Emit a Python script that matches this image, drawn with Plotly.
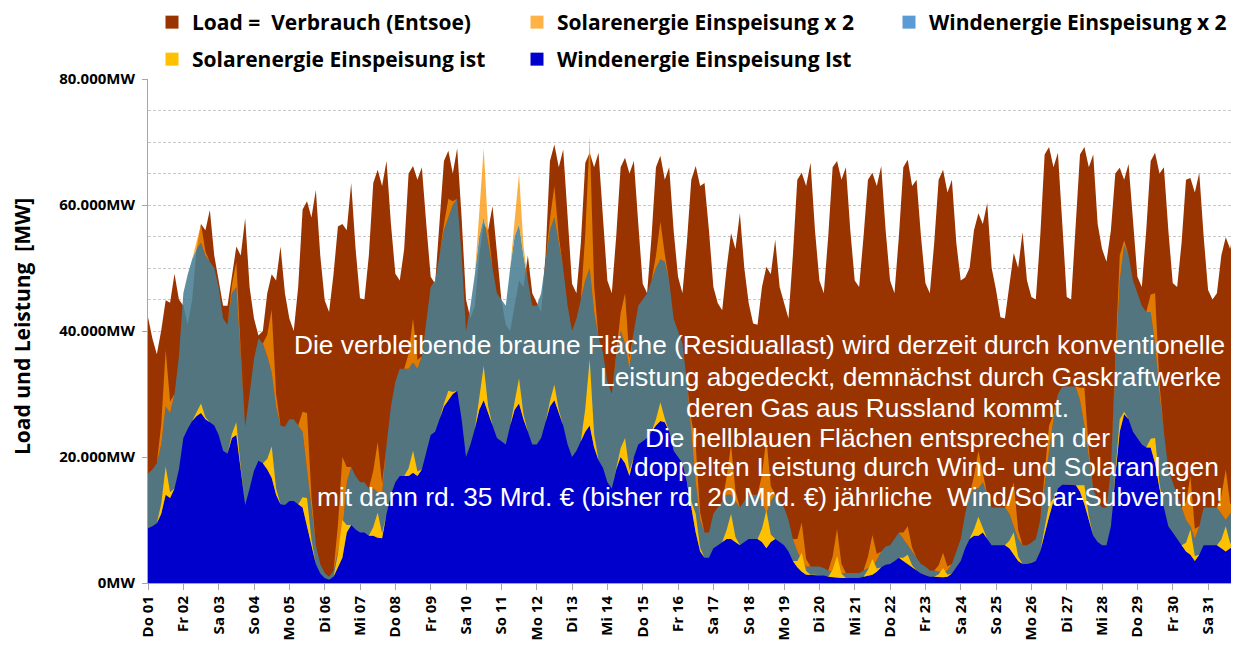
import plotly.graph_objects as go

# ---------------- data ----------------
day_labels = ["Do 01", "Fr 02", "Sa 03", "So 04", "Mo 05", "Di 06", "Mi 07", "Do 08",
              "Fr 09", "Sa 10", "So 11", "Mo 12", "Di 13", "Mi 14", "Do 15", "Fr 16",
              "Sa 17", "So 18", "Mo 19", "Di 20", "Mi 21", "Do 22", "Fr 23", "Sa 24",
              "So 25", "Mo 26", "Di 27", "Mi 28", "Do 29", "Fr 30", "Sa 31"]
day_start_hours = [24 * i for i in range(31)]

# hour of month (3-hourly samples: 0h,3h,...,21h of each day)
hours = list(range(0, 744, 3))

# Load = Verbrauch (Entsoe) [MW]
load_mw = [
    42200, 38800, 36300, 40100, 44900, 44500, 49100, 45000,   # Do 01
    44000, 41000, 45000, 53000, 57000, 56000, 59200, 52000,   # Fr 02
    48000, 44000, 44000, 49000, 53400, 52000, 57900, 47000,   # Sa 03
    42000, 39300, 40000, 46000, 49000, 48000, 53400, 46000,   # So 04
    42000, 40000, 47000, 59300, 60600, 58000, 62400, 52000,   # Mo 05
    44900, 43000, 49000, 56600, 57000, 56000, 63500, 53000,   # Di 06
    45200, 45000, 52000, 63500, 65600, 63000, 67000, 57000,   # Mi 07
    49100, 48000, 53000, 65000, 66200, 64000, 66000, 57000,   # Do 08
    48600, 47500, 58000, 67000, 68600, 65000, 69000, 58000,   # Fr 09
    45000, 42000, 44000, 52000, 57000, 56000, 59800, 52000,   # Sa 10
    45000, 41000, 40000, 44000, 48000, 47000, 52000, 46000,   # So 11
    44400, 43000, 52000, 67000, 69600, 66000, 68800, 58000,   # Mo 12
    47500, 46000, 54000, 66700, 68300, 66000, 68300, 58000,   # Di 13
    48000, 46000, 55000, 66000, 67500, 65000, 67000, 57000,   # Mi 14
    47500, 46000, 55000, 66000, 67800, 64000, 66000, 56000,   # Do 15
    48600, 46000, 54000, 64000, 66200, 63000, 63500, 56000,   # Fr 16
    47000, 44400, 43300, 50000, 55500, 53000, 58700, 50000,   # Sa 17
    44400, 41200, 41000, 47000, 50200, 49000, 54500, 47000,   # So 18
    44400, 42000, 52000, 64000, 65100, 63000, 66700, 56000,   # Mo 19
    48000, 46000, 55000, 66000, 67000, 64000, 66000, 56000,   # Di 20
    48000, 47000, 55000, 64000, 65100, 63000, 66200, 56000,   # Mi 21
    48000, 46000, 55000, 66000, 67200, 63000, 64000, 55000,   # Do 22
    47600, 46000, 54000, 64000, 65600, 62000, 64000, 54000,   # Fr 23
    48000, 48500, 50000, 56000, 58700, 57000, 60300, 50000,   # Sa 24
    46500, 42200, 42000, 47000, 52400, 50000, 55700, 48000,   # So 25
    45400, 45000, 55000, 68000, 69200, 66000, 68300, 57000,   # Mo 26
    45400, 45000, 56000, 68000, 69200, 66000, 68000, 57000,   # Di 27
    53000, 51000, 56000, 65000, 65900, 64000, 66500, 57000,   # Mi 28
    48600, 47000, 56000, 67000, 68300, 65000, 66000, 56000,   # Do 29
    47600, 47000, 54000, 64000, 64300, 62000, 65100, 55000,   # Fr 30
    46500, 45000, 46000, 52000, 54900, 53000, 57100, 50800,   # Sa 31
]

# Windenergie Einspeisung Ist [MW]
wind_ist_mw = [
    8700, 9000, 9500, 11000, 14000, 13500, 15000, 18000,
    23000, 24500, 25700, 26500, 27000, 26000, 25500, 25000,
    23500, 21000, 20500, 23000, 23500, 18000, 12400, 15000,
    17800, 19400, 19000, 18000, 16700, 14000, 12500, 12400,
    13000, 13000, 12500, 12000, 9000, 6000, 3000, 1500,
    800, 500, 1000, 2500, 4000, 8000, 9200, 8500,
    8000, 8000, 7500, 7500, 7200, 7100, 11000, 14000,
    16000, 17000, 17000, 17000, 17500, 17000, 18000, 21000,
    23500, 24000, 26000, 28000, 29000, 30000, 30500, 26000,
    20000, 22000, 24500, 27500, 29000, 27000, 25000, 23000,
    22500, 22000, 25000, 27500, 28500, 26000, 24000, 22000,
    22000, 23000, 25500, 28000, 29000, 27000, 25000, 22000,
    20000, 21000, 22500, 24000, 25000, 21500, 19500, 18300,
    16000, 15000, 18000, 20000, 19000, 17000, 20000, 22000,
    22500, 23000, 24000, 25000, 25700, 25500, 24000, 21000,
    20000, 19000, 16000, 12000, 8000, 5000, 4000, 4000,
    5500, 6000, 6500, 7000, 7000, 6500, 6000, 6500,
    7000, 7000, 7000, 6500, 5500, 6500, 7000, 6500,
    6000, 5000, 3500, 2500, 1800, 1300, 1300, 1300,
    1300, 1200, 1000, 900, 800, 800, 800, 800,
    800, 800, 1000, 1200, 1300, 1800, 2500, 2900,
    3000, 3500, 4000, 3500, 3000, 2500, 2000, 1500,
    1300, 1000, 1000, 900, 900, 1000, 1500, 2500,
    3500, 5500, 7000, 7500, 7500, 8000, 7000, 6000,
    6000, 6000, 6000, 5500, 4500, 3500, 3000, 3000,
    3200, 3500, 5000, 8000, 10500, 13000, 15000, 15600,
    15600, 15600, 15600, 14500, 12500, 10000, 7500, 6500,
    6000, 6000, 9000, 17000, 24000, 26800, 26000, 24000,
    23000, 22000, 21500, 21500, 19000, 15000, 12000, 9000,
    8000, 7000, 6000, 5000, 4500, 3500, 4500, 6000,
    6000, 6000, 6000, 5500, 5000, 5500, 6000, 6000,
]

# Solarenergie Einspeisung ist [MW]
solar_ist_mw = [
    0, 0, 0, 1600, 4500, 900, 0, 0,
    0, 0, 0, 500, 1500, 300, 0, 0,
    0, 0, 0, 700, 2000, 400, 0, 0,
    0, 0, 0, 1700, 5000, 1000, 0, 0,
    0, 0, 0, 1600, 4500, 900, 0, 0,
    0, 0, 0, 2100, 6000, 1200, 0, 0,
    0, 0, 0, 1400, 4000, 800, 0, 0,
    0, 0, 0, 1200, 3500, 700, 0, 0,
    0, 0, 0, 500, 1500, 300, 0, 0,
    0, 0, 0, 1900, 5500, 1100, 0, 0,
    0, 0, 0, 1400, 4000, 800, 0, 0,
    0, 0, 0, 900, 2500, 500, 0, 0,
    0, 0, 0, 3700, 10500, 2100, 0, 0,
    0, 0, 0, 1400, 4000, 800, 0, 0,
    0, 0, 0, 1000, 3000, 600, 0, 0,
    0, 0, 0, 1000, 3000, 600, 0, 0,
    0, 0, 0, 1400, 4000, 800, 0, 0,
    0, 0, 0, 2100, 6000, 1200, 0, 0,
    0, 0, 0, 1000, 3000, 600, 0, 0,
    0, 0, 0, 1200, 3500, 700, 0, 0,
    0, 0, 0, 900, 2500, 500, 0, 0,
    0, 0, 0, 500, 1500, 300, 0, 0,
    0, 0, 0, 500, 1500, 300, 0, 0,
    0, 0, 0, 1000, 3000, 600, 0, 0,
    0, 0, 0, 1200, 3500, 700, 0, 0,
    0, 0, 0, 700, 2000, 400, 0, 0,
    0, 0, 0, 1000, 3000, 600, 0, 0,
    0, 0, 0, 700, 2000, 400, 0, 0,
    0, 0, 0, 1400, 4000, 800, 0, 0,
    0, 0, 0, 1400, 4000, 800, 0, 0,
    0, 0, 0, 1400, 4000, 800, 0, 0,
]

# "x 2" scenario = doubled feed-in (by definition of the series)
wind_x2_mw = [2 * v for v in wind_ist_mw]
solar_x2_mw = [2 * v for v in solar_ist_mw]

y_tick_vals = [0, 20000, 40000, 60000, 80000]
y_tick_text = ["0MW", "20.000MW", "40.000MW", "60.000MW", "80.000MW"]

note_lines = [
    "Die verbleibende braune Fläche (Residuallast) wird derzeit durch konventionelle",
    "Leistung abgedeckt, demnächst durch Gaskraftwerke",
    "deren Gas aus Russland kommt.",
    "Die hellblauen Flächen entsprechen der",
    "doppelten Leistung durch Wind- und Solaranlagen",
    "mit dann rd. 35 Mrd. € (bisher rd. 20 Mrd. €) jährliche  Wind/Solar-Subvention!",
]

# ---------------- styling ----------------
C_LOAD = "#993300"
C_WIND2 = "rgba(72,126,146,0.88)"
C_SOLAR2 = "rgba(249,147,0,0.74)"
C_WIND = "#0000CC"
C_SOLAR = "#FFC000"

# page offset of the plot div (default body margin)
OFF = 8
W, H = 1239 - OFF, 646 - OFF
ML, MR, MT = 148 - OFF, 0, 79 - OFF
MB = H - (583 - OFF)
PW, PH = W - ML - MR, H - MT - MB


def px(xp):
    return (xp - OFF - ML) / PW


def py(yp):
    return (H - MB - (yp - OFF)) / PH


fig = go.Figure()

fig.add_trace(go.Scatter(x=hours, y=load_mw, mode="lines", fill="tozeroy",
                         fillcolor=C_LOAD, line=dict(width=0, color=C_LOAD),
                         showlegend=False, hoverinfo="skip"))
fig.add_trace(go.Scatter(x=hours, y=wind_x2_mw, mode="lines", stackgroup="x2",
                         fillcolor=C_WIND2, line=dict(width=0, color=C_WIND2),
                         showlegend=False, hoverinfo="skip"))
fig.add_trace(go.Scatter(x=hours, y=solar_x2_mw, mode="lines", stackgroup="x2",
                         fillcolor=C_SOLAR2, line=dict(width=0, color=C_SOLAR2),
                         showlegend=False, hoverinfo="skip"))
fig.add_trace(go.Scatter(x=hours, y=wind_ist_mw, mode="lines", stackgroup="ist",
                         fillcolor=C_WIND, line=dict(width=0, color=C_WIND),
                         showlegend=False, hoverinfo="skip"))
fig.add_trace(go.Scatter(x=hours, y=solar_ist_mw, mode="lines", stackgroup="ist",
                         fillcolor=C_SOLAR, line=dict(width=0, color=C_SOLAR),
                         showlegend=False, hoverinfo="skip"))

legend_items = [
    ("Load =  Verbrauch (Entsoe)", "#993300", "legend", 320),
    ("Solarenergie Einspeisung x 2", "#FFB347", "legend", 327),
    ("Windenergie Einspeisung x 2", "#5B9BD5", "legend", 300),
    ("Solarenergie Einspeisung ist", "#FFC000", "legend2", 320),
    ("Windenergie Einspeisung Ist", "#0000CC", "legend2", 300),
]
for name, col, lg, lw in legend_items:
    fig.add_trace(go.Scatter(x=[None], y=[None], mode="markers", name=name,
                             marker=dict(symbol="square", size=13, color=col),
                             legend=lg, legendwidth=lw, showlegend=True))

BOLD = "Open Sans"
legend_font = dict(family=BOLD, size=21, color="black", weight="bold")
common_legend = dict(orientation="h", xanchor="left", yanchor="top",
                     x=px(152), font=legend_font, traceorder="normal",
                     bgcolor="rgba(0,0,0,0)", itemsizing="trace",
                     entrywidthmode="pixels")

annotations = []
line_centers = [760, 910, 877, 877, 926, 770]
line_ys = [345, 377, 408, 438, 467, 497]
for txt, cx, cy in zip(note_lines, line_centers, line_ys):
    annotations.append(dict(text=txt, x=px(cx), y=py(cy),
                            xref="paper", yref="paper", showarrow=False,
                            xanchor="center", yanchor="middle",
                            font=dict(family="Liberation Sans", size=26.3, color="white")))
annotations.append(dict(text="Load und Leistung  [MW]", textangle=-90,
                        x=px(22), y=py(327), xref="paper", yref="paper",
                        showarrow=False, xanchor="center", yanchor="middle",
                        font=dict(family=BOLD, size=21, color="black", weight="bold")))

grid_style = dict(gridcolor="#c8c8c8", griddash="3px,2px", gridwidth=1)

fig.update_layout(
    width=W, height=H,
    margin=dict(l=ML, r=MR, t=MT, b=MB, autoexpand=False),
    paper_bgcolor="white", plot_bgcolor="white",
    showlegend=True,
    legend=dict(**common_legend, y=py(2)),
    legend2=dict(**common_legend, y=py(39)),
    annotations=annotations,
    xaxis=dict(range=[0, 741], tickvals=day_start_hours, ticktext=day_labels,
               tickangle=-90, showgrid=False, zeroline=False,
               showline=True, linecolor="#a6a6a6", linewidth=1,
               ticks="outside", ticklen=6, tickcolor="#a6a6a6",
               tickfont=dict(family=BOLD, size=15, color="black", weight="bold")),
    yaxis=dict(range=[0, 80000], tickvals=y_tick_vals, ticktext=y_tick_text,
               showgrid=True, **grid_style, zeroline=False,
               showline=True, linecolor="#a6a6a6", linewidth=1,
               ticks="outside", ticklen=5, tickcolor="#a6a6a6",
               ticklabelstandoff=4,
               tickfont=dict(family=BOLD, size=15, color="black", weight="bold"),
               minor=dict(dtick=5000, tick0=0, showgrid=True, ticks="", **grid_style)),
)

fig.write_html("out.html")
